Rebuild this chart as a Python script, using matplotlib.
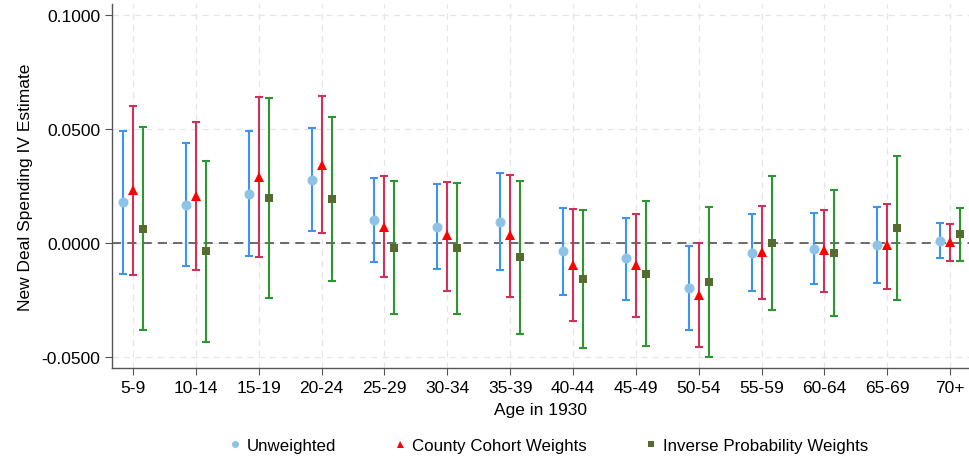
import numpy as np
import matplotlib
matplotlib.use("Agg")
import matplotlib.pyplot as plt

# ------------------ data ------------------
ages = ["5-9", "10-14", "15-19", "20-24", "25-29", "30-34", "35-39",
        "40-44", "45-49", "50-54", "55-59", "60-64", "65-69", "70+"]

unw_est = [0.0178, 0.0168, 0.0216, 0.0278, 0.0101, 0.0072, 0.0092,
           -0.0037, -0.0067, -0.0197, -0.0042, -0.0025, -0.0009, 0.0010]
unw_hi = [0.0490, 0.0437, 0.0490, 0.0506, 0.0285, 0.0260, 0.0306,
          0.0152, 0.0111, -0.0012, 0.0127, 0.0133, 0.0158, 0.0086]
unw_lo = [-0.0134, -0.0099, -0.0056, 0.0053, -0.0083, -0.0115, -0.0120,
          -0.0227, -0.0249, -0.0383, -0.0212, -0.0181, -0.0175, -0.0064]

cc_est = [0.0234, 0.0208, 0.0291, 0.0344, 0.0072, 0.0034, 0.0034,
          -0.0095, -0.0098, -0.0227, -0.0038, -0.0029, -0.0009, 0.0006]
cc_hi = [0.0602, 0.0531, 0.0642, 0.0643, 0.0292, 0.0269, 0.0298,
         0.0148, 0.0126, 0.0000, 0.0162, 0.0145, 0.0173, 0.0082]
cc_lo = [-0.0142, -0.0118, -0.0063, 0.0042, -0.0149, -0.0209, -0.0238,
         -0.0341, -0.0326, -0.0455, -0.0246, -0.0213, -0.0203, -0.0080]

ipw_est = [0.0061, -0.0037, 0.0197, 0.0193, -0.0023, -0.0023, -0.0063,
           -0.0158, -0.0136, -0.0170, 0.0000, -0.0044, 0.0064, 0.0038]
ipw_hi = [0.0509, 0.0358, 0.0636, 0.0554, 0.0270, 0.0265, 0.0273,
          0.0143, 0.0183, 0.0158, 0.0295, 0.0232, 0.0380, 0.0155]
ipw_lo = [-0.0383, -0.0433, -0.0240, -0.0168, -0.0313, -0.0311, -0.0398,
          -0.0459, -0.0450, -0.0499, -0.0294, -0.0319, -0.0249, -0.0079]

# ------------------ style ------------------
series = [
    ("Unweighted", unw_est, unw_lo, unw_hi, -0.16, "#3C93F0", "#8EC3E8", "o", 7.2),
    ("County Cohort Weights", cc_est, cc_lo, cc_hi, 0.0, "#D0305A", "#FF0000", "^", 7.2),
    ("Inverse Probability Weights", ipw_est, ipw_lo, ipw_hi, 0.16, "#2E9630", "#556B2F", "s", 6.2),
]

plt.rcParams["font.family"] = ["Liberation Sans", "DejaVu Sans"]
FS = 12.5

fig = plt.figure(figsize=(9.69, 4.6), dpi=100)
ax = fig.add_axes([0.1156, 0.198, 0.8844, 0.791])

x = np.arange(1, len(ages) + 1)

for lab, est, lo, hi, off, bar_c, mk_c, mk, ms in series:
    est = np.array(est)
    lo = np.array(lo)
    hi = np.array(hi)
    ax.errorbar(x + off, est, yerr=[est - lo, hi - est], fmt="none",
                ecolor=bar_c, elinewidth=1.5, capsize=2.6, capthick=1.5, zorder=3)
    ax.plot(x + off, est, linestyle="none", marker=mk, color=mk_c,
            markersize=ms, markeredgewidth=0, label=lab, zorder=4)

ax.axhline(0, color="#444444", linestyle=(0, (6, 4)), linewidth=1.1, zorder=2)

ax.set_xlim(0.666, 14.30)
ax.set_ylim(-0.0548, 0.1048)
ax.set_xticks(x)
ax.set_xticklabels(ages)
ax.set_yticks([-0.05, 0.0, 0.05, 0.1])
ax.set_yticklabels(["-0.0500", "0.0000", "0.0500", "0.1000"])

ax.grid(True, color="#E6E6E6", linestyle=(0, (5, 4)), linewidth=0.9, zorder=0)
ax.set_axisbelow(True)

for s in ["top", "right"]:
    ax.spines[s].set_visible(False)
for s in ["left", "bottom"]:
    ax.spines[s].set_color("#555555")
    ax.spines[s].set_linewidth(1.0)

ax.tick_params(axis="both", labelsize=FS, color="#555555", length=5)
ax.set_xlabel("Age in 1930", fontsize=FS, labelpad=5)
ax.set_ylabel("New Deal Spending IV Estimate", fontsize=FS, labelpad=6)

leg = ax.legend(loc="upper center", bbox_to_anchor=(0.509, -0.15), ncol=3,
                frameon=False, fontsize=12.2, markerscale=0.7,
                handlelength=0.8, handletextpad=0.3, columnspacing=3.4)

fig.savefig("out.png", dpi=100)
